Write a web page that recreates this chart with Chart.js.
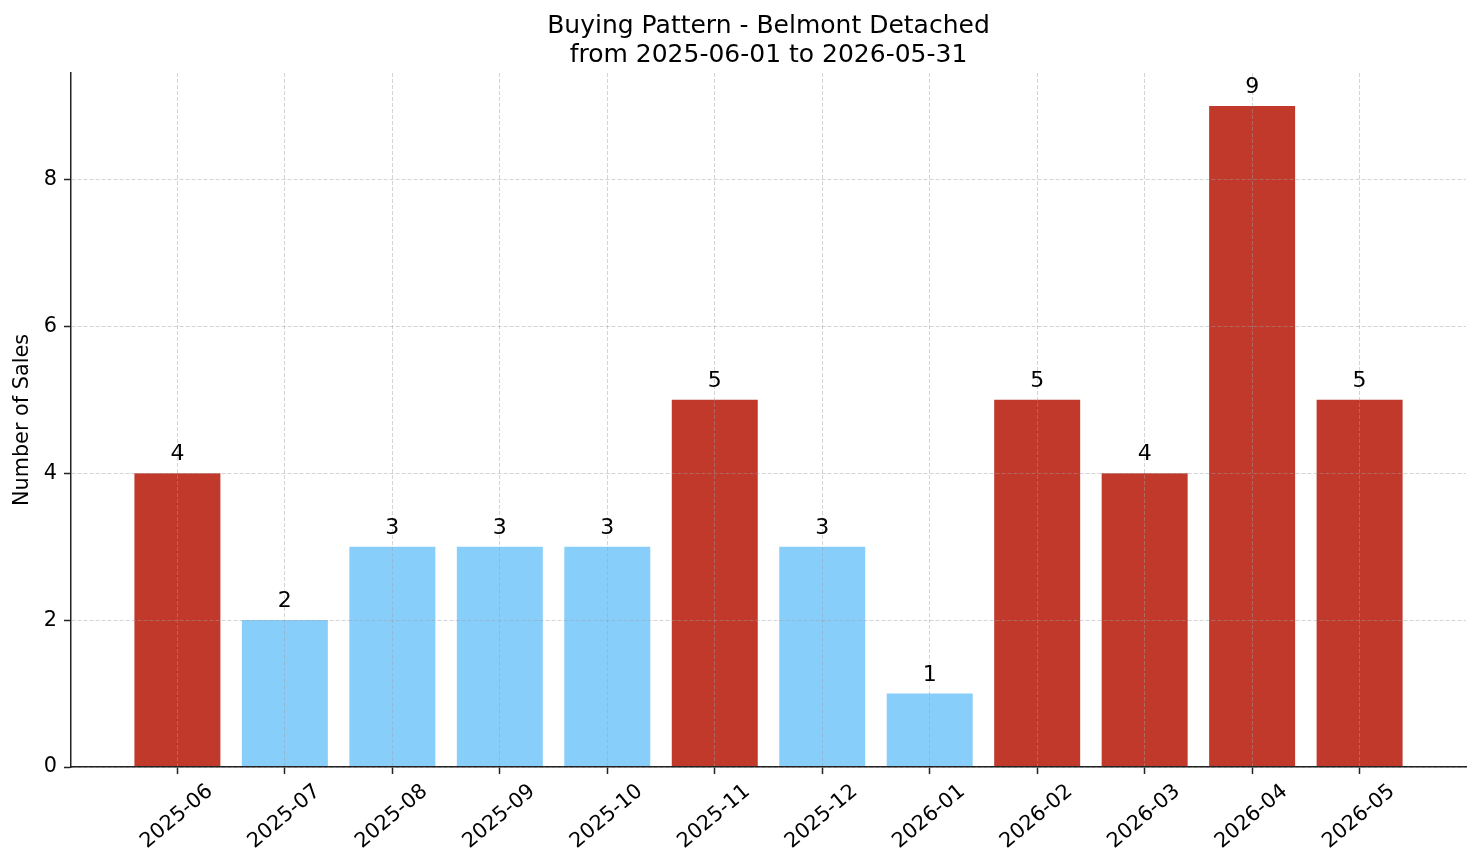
<!DOCTYPE html>
<html><head><meta charset="utf-8">
<script src="https://cdn.jsdelivr.net/npm/chart.js@4.4.0/dist/chart.umd.min.js"></script>
<style>html,body{margin:0;padding:0;background:#fff}canvas{display:block}</style>
</head><body>
<canvas id="c" width="1481" height="863"></canvas>
<script>
const months = ['2025-06','2025-07','2025-08','2025-09','2025-10','2025-11','2025-12','2026-01','2026-02','2026-03','2026-04','2026-05'];
const sales = [4, 2, 3, 3, 3, 5, 3, 1, 5, 4, 9, 5];
const titleLines = ['Buying Pattern - Belmont Detached', 'from 2025-06-01 to 2026-05-31'];
const yAxisLabel = 'Number of Sales';
const highThreshold = 4;

const RED = '#C0392B', BLUE = '#87CEFA';
const FONT = "'DejaVu Sans', sans-serif";
const GRID = 'rgba(160,160,160,0.45)';
const AXIS = '#222';
const TICK_FS = 20.8;

const labelPlugin = {
  id: 'customLabels',
  afterLayout(chart) {
    // center the title over the plotting area, as in the reference
    if (chart.titleBlock) {
      chart.titleBlock.left = chart.chartArea.left;
      chart.titleBlock.right = chart.chartArea.right;
    }
  },
  afterDraw(chart) {
    const ctx = chart.ctx;
    const xs = chart.scales.x;
    ctx.save();
    ctx.fillStyle = '#000';
    ctx.font = `22px ${FONT}`;
    ctx.textAlign = 'center';
    ctx.textBaseline = 'alphabetic';
    chart.getDatasetMeta(0).data.forEach((bar, i) => {
      ctx.fillText(String(sales[i]), bar.x, bar.y - 13);
    });
    ctx.font = `${TICK_FS}px ${FONT}`;
    const ang = -40 * Math.PI / 180;
    xs.ticks.forEach(t => {
      if (!t.label) return;
      const px = xs.getPixelForValue(t.value);
      ctx.save();
      ctx.translate(px - 2, 815);
      ctx.rotate(ang);
      ctx.fillText(t.label, 0, 0.364 * TICK_FS);
      ctx.restore();
    });
    ctx.restore();
  }
};

new Chart(document.getElementById('c'), {
  type: 'bar',
  data: {
    datasets: [{
      data: sales.map((v, i) => ({x: i, y: v})),
      backgroundColor: sales.map(v => v >= highThreshold ? RED : BLUE),
      borderWidth: 0,
      barPercentage: 0.8,
      categoryPercentage: 1.0
    }]
  },
  options: {
    responsive: false,
    devicePixelRatio: 1,
    animation: false,
    layout: {padding: {left: 0, right: 15, top: 0, bottom: 0}},
    plugins: {
      legend: {display: false},
      tooltip: {enabled: false},
      title: {
        display: true,
        text: titleLines,
        color: '#000',
        font: {family: FONT, size: 25, weight: 'normal', lineHeight: 1.16},
        padding: {top: 12, bottom: 3}
      }
    },
    scales: {
      x: {
        type: 'linear',
        offset: false,
        min: -0.99,
        max: 11.99,
        grid: {offset: false, color: GRID, lineWidth: 1, z: 1, drawTicks: true, tickLength: 7, tickColor: AXIS, tickWidth: 1.5, tickBorderDash: []},
        border: {display: true, color: AXIS, width: 1.5, dash: [4, 2], z: 2},
        ticks: {
          stepSize: 1, includeBounds: false, autoSkip: false, maxTicksLimit: 20,
          maxRotation: 0, minRotation: 0,
          color: 'rgba(0,0,0,0)',
          font: {family: FONT, size: TICK_FS},
          callback: v => (Number.isInteger(v) && months[v]) ? months[v] : ''
        },
        afterFit: s => { s.height = 96; }
      },
      y: {
        type: 'linear',
        min: 0,
        max: 9.45,
        grid: {color: GRID, lineWidth: 1, z: 1, drawTicks: true, tickLength: 7, tickColor: AXIS, tickWidth: 1.5, tickBorderDash: []},
        border: {display: true, color: AXIS, width: 1.5, dash: [4, 2], z: 2},
        ticks: {
          stepSize: 2, includeBounds: false, maxTicksLimit: 20, padding: 7,
          color: '#000',
          font: {family: FONT, size: TICK_FS}
        },
        title: {
          display: true,
          text: yAxisLabel,
          color: '#000',
          font: {family: FONT, size: TICK_FS},
          padding: {top: 10, bottom: 0}
        },
        afterFit: s => { s.width = 71; }
      }
    }
  },
  plugins: [labelPlugin]
});
</script>
</body></html>
